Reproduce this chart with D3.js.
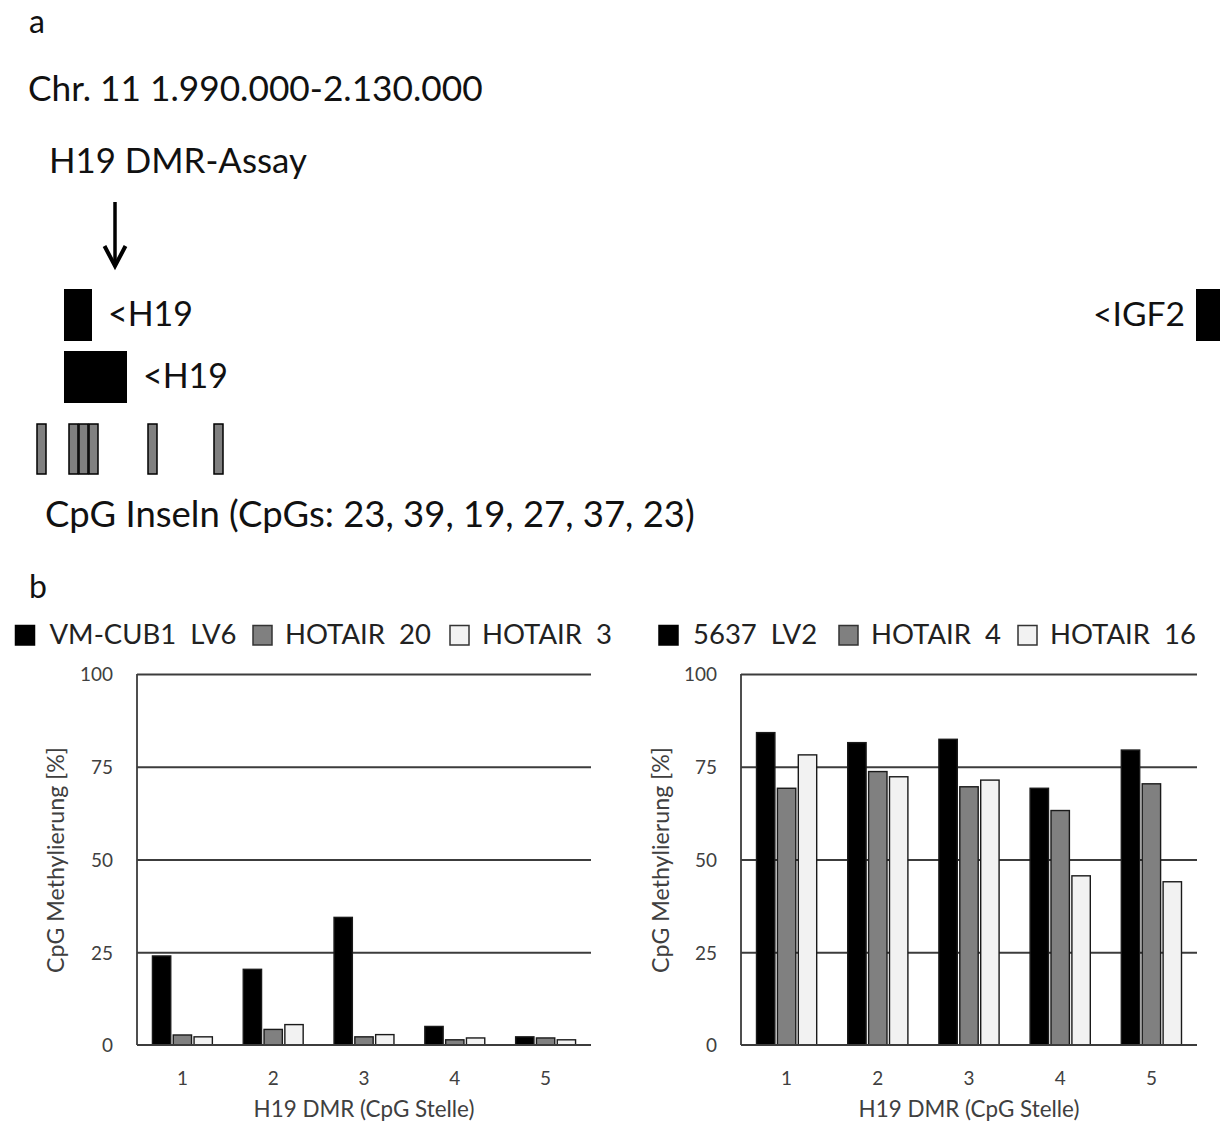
<!DOCTYPE html>
<html>
<head>
<meta charset="utf-8">
<script src="https://cdn.jsdelivr.net/npm/d3@7"></script>
<style>
  html, body { margin: 0; padding: 0; background: #fff; }
  svg { display: block; }
  text { font-family: Lato, "Open Sans", sans-serif; white-space: pre; }
</style>
</head>
<body>
<svg id="chart" width="1220" height="1124"></svg>
<script>
// ---------------- DATA ----------------
// Panel a: genomic track (Chr. 11, approximate positions in bp)
const regionStart = 1990000;
const regionEnd = 2130000;
const geneLabels = ["<H19", "<H19", "<IGF2"];
const geneStarts = [1997344, 1997344, 2127246];
const geneEnds   = [2000557, 2004574, 2131500];
const geneLanes  = [0, 1, 0];
const islandStarts = [1994246, 1997918, 1999066, 2000213, 2006984, 2014557];
const islandEnds   = [1995279, 1998951, 2000098, 2001246, 2008016, 2015590];
const islandCpGs   = [23, 39, 19, 27, 37, 23];
const assayPos = 2003197;

// Panel b: bar charts
const categories = ["1", "2", "3", "4", "5"];
const yTicks = [0, 25, 50, 75, 100];
const leftSeriesNames  = ["VM-CUB1  LV6", "HOTAIR  20", "HOTAIR  3"];
const leftBlack = [24.0, 20.4, 34.4, 5.0, 2.2];
const leftGray  = [2.7, 4.2, 2.2, 1.4, 1.9];
const leftLight = [2.2, 5.5, 2.8, 1.9, 1.4];
const rightSeriesNames = ["5637  LV2", "HOTAIR  4", "HOTAIR  16"];
const rightBlack = [84.2, 81.5, 82.4, 69.2, 79.5];
const rightGray  = [69.2, 73.7, 69.6, 63.2, 70.4];
const rightLight = [78.2, 72.3, 71.4, 45.6, 44.0];
const seriesColors = ["#000000", "#808080", "#f2f2f2"];
const yTitle = "CpG Methylierung [%]";
const xTitle = "H19 DMR (CpG Stelle)";

// ---------------- HELPERS ----------------
const svg = d3.select("#chart");
function fitText(sel, targetWidth) {
  const n = sel.node();
  const w = n.getComputedTextLength();
  const fs = parseFloat(sel.attr("font-size"));
  const nfs = fs * targetWidth / w;
  sel.attr("font-size", nfs);
  return nfs;
}
function addText(x, y, str, size, color) {
  return svg.append("text").attr("x", x).attr("y", y)
    .attr("font-size", size).attr("fill", color || "#111").text(str);
}

// ---------------- PANEL A ----------------
addText(29, 33, "a", 32, "#111");
const t1 = addText(28, 101, "Chr. 11 1.990.000-2.130.000", 36, "#111");
fitText(t1, 455);
const t2 = addText(49, 173, "H19 DMR-Assay", 36, "#111");
fitText(t2, 258);

const gx = d3.scaleLinear().domain([regionStart, regionEnd]).range([0, 1220]);
const laneTop = [289, 351];
const laneH = 52;

// assay arrow
const ax = gx(assayPos);
svg.append("line").attr("x1", ax).attr("x2", ax).attr("y1", 202).attr("y2", 264)
  .attr("stroke", "#000").attr("stroke-width", 3.5);
svg.append("path")
  .attr("d", `M${ax - 10.5},${246} L${ax},${266} L${ax + 10.5},${246}`)
  .attr("fill", "none").attr("stroke", "#000").attr("stroke-width", 4)
  .attr("stroke-linejoin", "miter");

// genes
geneStarts.forEach((s, i) => {
  const x0 = gx(s), x1 = gx(geneEnds[i]);
  const y0 = laneTop[geneLanes[i]];
  svg.append("rect").attr("x", x0).attr("y", y0)
    .attr("width", x1 - x0).attr("height", laneH).attr("fill", "#000");
  const lbl = svg.append("text").attr("font-size", 34).attr("fill", "#111")
    .attr("y", y0 + 37).text(geneLabels[i]);
  if (geneLabels[i] === "<IGF2") {
    fitText(lbl, 92);
    lbl.attr("x", x0 - 11).attr("text-anchor", "end");
  } else {
    fitText(lbl, 85);
    lbl.attr("x", x1 + 16);
  }
});

// CpG islands
islandStarts.forEach((s, i) => {
  const x0 = gx(s), x1 = gx(islandEnds[i]);
  svg.append("rect").attr("x", x0).attr("y", 424)
    .attr("width", x1 - x0).attr("height", 50)
    .attr("fill", "#808080").attr("stroke", "#000").attr("stroke-width", 1.5);
});
const t3 = addText(45, 527, "CpG Inseln (CpGs: " + islandCpGs.join(", ") + ")", 34, "#111");
fitText(t3, 650);

addText(29, 598, "b", 32, "#111");

// ---------------- PANEL B ----------------
// legend layout: marker left edges (px) per legend
function drawLegend(names, markerXs) {
  let probe = svg.append("text").attr("font-size", 30).attr("y", 644).text(leftSeriesNames[0]);
  const fs = fitText(probe, 187);
  probe.remove();
  names.forEach((nm, i) => {
    const x = markerXs[i];
    svg.append("rect").attr("x", x).attr("y", 625.5).attr("width", 19).attr("height", 19.5)
      .attr("fill", seriesColors[i]).attr("stroke", i === 0 ? "#000" : "#333")
      .attr("stroke-width", 1.5);
    svg.append("text").attr("x", x + (i === 0 ? 34 : 32)).attr("y", 644)
      .attr("font-size", fs).attr("fill", "#222").text(nm);
  });
}
drawLegend(leftSeriesNames, [15.5, 253, 450]);
drawLegend(rightSeriesNames, [659, 839, 1018]);

function drawChart(x0, x1, black, gray, light, titleX) {
  const yTop = 674, yBot = 1045;
  const y = d3.scaleLinear().domain([0, 100]).range([yBot, yTop]);
  const xb = d3.scaleBand().domain(categories).range([x0, x1]).paddingInner(0.34).paddingOuter(0.17);
  const xs = d3.scaleBand().domain([0, 1, 2]).range([0, xb.bandwidth()]).paddingInner(0.12);
  const g = svg.append("g");

  // gridlines
  const grid = g.append("g").attr("transform", `translate(${x0},0)`)
    .call(d3.axisLeft(y).tickValues(yTicks.filter(v => v > 0)).tickSize(-(x1 - x0)).tickFormat(""));
  grid.select(".domain").remove();
  grid.selectAll("line").attr("stroke", "#3c3c3c").attr("stroke-width", 1.8);

  // bars
  const seriesVals = [black, gray, light];
  categories.forEach((c, ci) => {
    seriesVals.forEach((vals, si) => {
      g.append("rect")
        .attr("x", xb(c) + xs(si)).attr("width", xs.bandwidth())
        .attr("y", y(vals[ci])).attr("height", y(0) - y(vals[ci]))
        .attr("fill", seriesColors[si]).attr("stroke", "#1a1a1a").attr("stroke-width", 1.4);
    });
  });

  // axis lines
  g.append("line").attr("x1", x0).attr("x2", x0).attr("y1", yTop).attr("y2", yBot)
    .attr("stroke", "#3c3c3c").attr("stroke-width", 1.8);
  g.append("line").attr("x1", x0).attr("x2", x1).attr("y1", yBot).attr("y2", yBot)
    .attr("stroke", "#3c3c3c").attr("stroke-width", 1.8);

  // y tick labels
  const probe = g.append("text").attr("font-size", 20).text("100");
  const tfs = fitText(probe, 33);
  probe.remove();
  const yAx = g.append("g").attr("transform", `translate(${x0 - 24},0)`)
    .call(d3.axisLeft(y).tickValues(yTicks).tickSize(0).tickPadding(0));
  yAx.select(".domain").remove();
  yAx.selectAll("text").attr("font-size", tfs).attr("font-family", "Lato, sans-serif")
    .attr("fill", "#404040").attr("dy", "0.36em");

  // x tick labels
  const xAx = g.append("g").attr("transform", `translate(0,${yBot})`)
    .call(d3.axisBottom(xb).tickSize(0).tickPadding(0));
  xAx.select(".domain").remove();
  xAx.selectAll("text").attr("font-size", tfs).attr("font-family", "Lato, sans-serif")
    .attr("fill", "#404040").attr("dy", null).attr("y", 40);

  // y title
  const yt = g.append("text").attr("transform", `translate(${titleX},860) rotate(-90)`)
    .attr("text-anchor", "middle").attr("font-size", 20).attr("fill", "#404040").text(yTitle);
  fitText(yt, 226);

  // x title
  const xt = g.append("text").attr("x", (x0 + x1) / 2).attr("y", 1117)
    .attr("text-anchor", "middle").attr("font-size", 20).attr("fill", "#404040").text(xTitle);
  fitText(xt, 221);
}

drawChart(137, 591, leftBlack, leftGray, leftLight, 64);
drawChart(741, 1197, rightBlack, rightGray, rightLight, 669);
</script>
</body>
</html>
